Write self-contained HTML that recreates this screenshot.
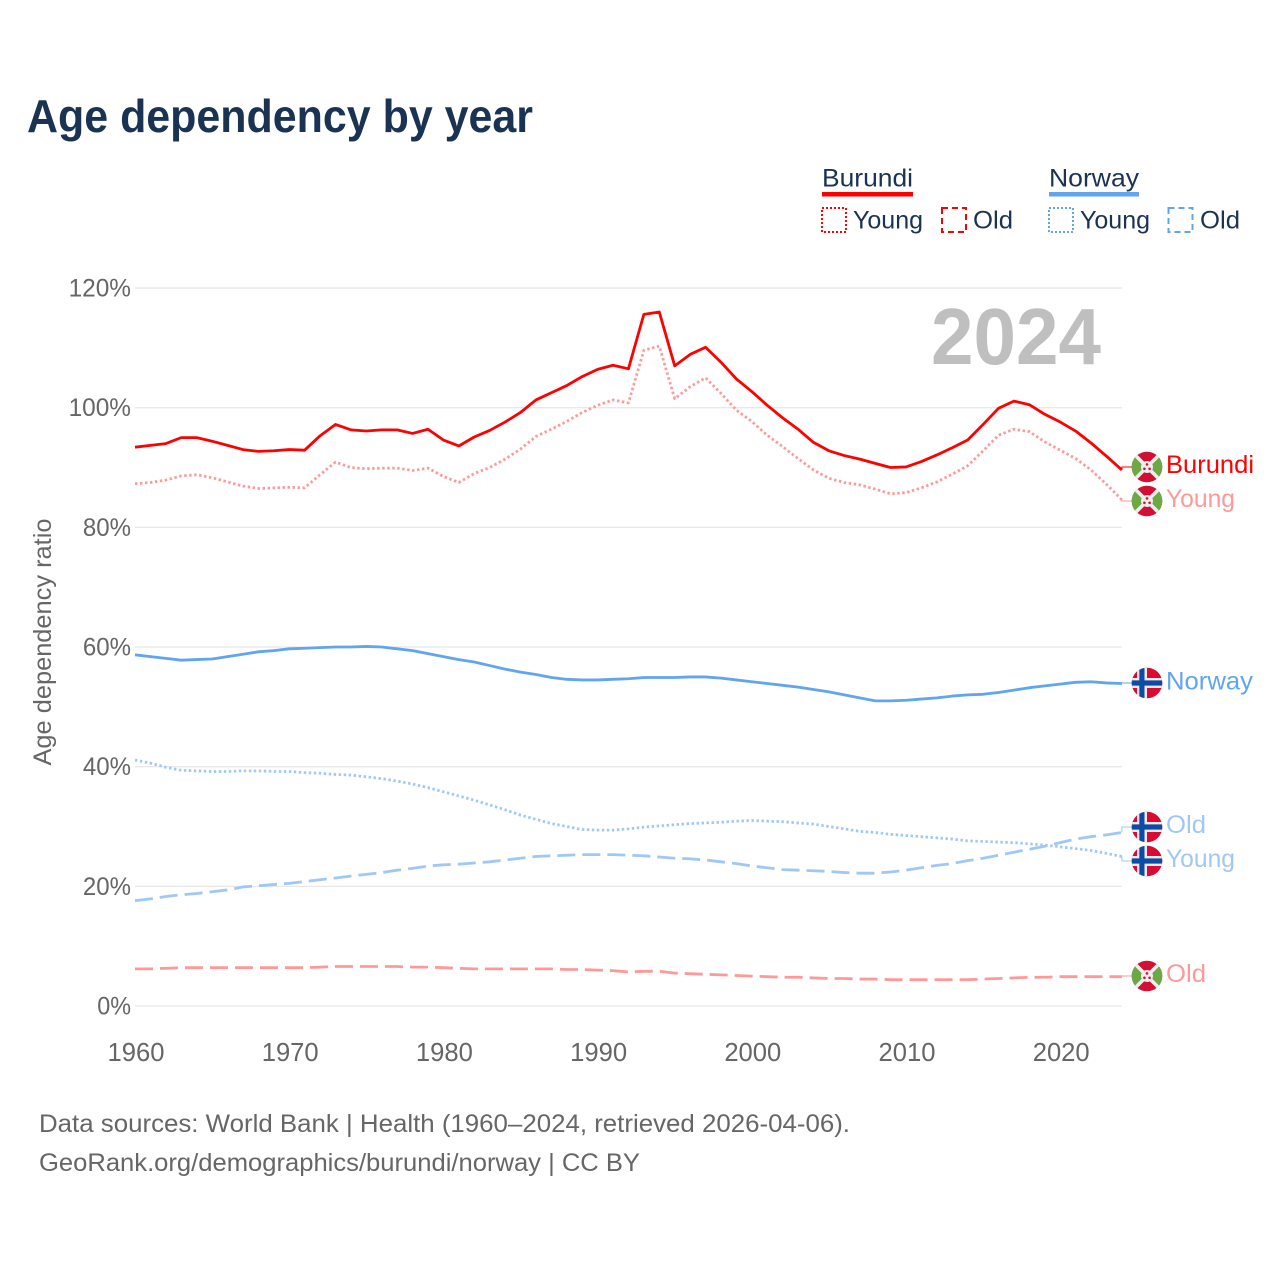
<!DOCTYPE html>
<html lang="en">
<head>
<meta charset="utf-8">
<title>Age dependency by year</title>
<style>
html,body{margin:0;padding:0;background:#fff;}
svg{display:block;font-family:"Liberation Sans",sans-serif;}
</style>
</head>
<body>
<svg id="chart" width="1280" height="1280" viewBox="0 0 1280 1280" xmlns="http://www.w3.org/2000/svg">
<defs>
<clipPath id="flag-clip"><circle cx="0" cy="0" r="15.3"/></clipPath>
<g id="flag-burundi">
<g clip-path="url(#flag-clip)">
<rect x="-16" y="-16" width="32" height="32" fill="#d21034"/>
<path d="M-16 -16L0 0L-16 16Z" fill="#6ca844"/>
<path d="M16 -16L0 0L16 16Z" fill="#6ca844"/>
<path d="M-16 -16L16 16M16 -16L-16 16" stroke="#eeeeee" stroke-width="3.6"/>
<circle cx="0" cy="0" r="6" fill="#eeeeee"/>
<circle cx="0" cy="-2.6" r="1.3" fill="#d21034"/>
<circle cx="-2.6" cy="1.8" r="1.3" fill="#d21034"/>
<circle cx="2.6" cy="1.8" r="1.3" fill="#d21034"/>
</g>
</g>
<g id="flag-norway">
<g clip-path="url(#flag-clip)">
<rect x="-16" y="-16" width="32" height="32" fill="#d80c32"/>
<rect x="-16" y="-5" width="32" height="10" fill="#f0e8ea"/>
<rect x="-10" y="-16" width="10" height="32" fill="#f0e8ea"/>
<rect x="-16" y="-2.6" width="32" height="5.2" fill="#0b4ca5"/>
<rect x="-7.7" y="-16" width="5.2" height="32" fill="#0b4ca5"/>
</g>
</g>
</defs>

<rect width="1280" height="1280" fill="#ffffff"/>

<text x="27" y="132" font-size="46" font-weight="700" fill="#1a3352" textLength="506" lengthAdjust="spacingAndGlyphs">Age dependency by year</text>

<g>
<text x="822" y="186.5" font-size="25" fill="#1a3352" textLength="91" lengthAdjust="spacingAndGlyphs">Burundi</text>
<rect x="822" y="192" width="91" height="4.5" fill="#ff0000"/>
<rect x="822" y="208" width="24" height="24" fill="none" stroke="#ff0000" stroke-width="2" stroke-dasharray="2 2"/>
<text x="853" y="228.5" font-size="25" fill="#1a3352" textLength="70" lengthAdjust="spacingAndGlyphs">Young</text>
<rect x="942" y="208" width="24" height="24" fill="none" stroke="#ff0000" stroke-width="2" stroke-dasharray="6 4"/>
<text x="973" y="228.5" font-size="25" fill="#1a3352" textLength="40" lengthAdjust="spacingAndGlyphs">Old</text>
<text x="1049" y="186.5" font-size="25" fill="#1a3352" textLength="90" lengthAdjust="spacingAndGlyphs">Norway</text>
<rect x="1049" y="192" width="90" height="4.5" fill="#60a5ee"/>
<rect x="1049" y="208" width="24" height="24" fill="none" stroke="#60a5ee" stroke-width="2" stroke-dasharray="2 2"/>
<text x="1080" y="228.5" font-size="25" fill="#1a3352" textLength="70" lengthAdjust="spacingAndGlyphs">Young</text>
<rect x="1168.5" y="208" width="24" height="24" fill="none" stroke="#60a5ee" stroke-width="2" stroke-dasharray="6 4"/>
<text x="1200" y="228.5" font-size="25" fill="#1a3352" textLength="40" lengthAdjust="spacingAndGlyphs">Old</text>
</g>

<g id="grid"></g>
<g id="y-ticks"></g>
<g id="x-ticks"></g>

<text transform="translate(51 642) rotate(-90)" text-anchor="middle" font-size="25" fill="#666666" textLength="247" lengthAdjust="spacingAndGlyphs">Age dependency ratio</text>

<text x="1101" y="364" text-anchor="end" font-size="80" font-weight="700" fill="#bfbfbf" textLength="170" lengthAdjust="spacingAndGlyphs">2024</text>

<g id="series"></g>

<g>
<use href="#flag-burundi" x="1147" y="467"/>
<text x="1166" y="473" font-size="25" fill="#ff0000" textLength="88" lengthAdjust="spacingAndGlyphs">Burundi</text>
<use href="#flag-burundi" x="1147" y="501"/>
<text x="1166" y="507" font-size="25" fill="#ff9999" textLength="69" lengthAdjust="spacingAndGlyphs">Young</text>
<use href="#flag-norway" x="1147" y="683"/>
<text x="1166" y="689.5" font-size="25" fill="#60a5ee" textLength="87" lengthAdjust="spacingAndGlyphs">Norway</text>
<use href="#flag-norway" x="1147" y="827"/>
<text x="1166" y="833" font-size="25" fill="#a0c8f5" textLength="40" lengthAdjust="spacingAndGlyphs">Old</text>
<use href="#flag-norway" x="1147" y="861"/>
<text x="1166" y="867" font-size="25" fill="#a0c8f5" textLength="69" lengthAdjust="spacingAndGlyphs">Young</text>
<use href="#flag-burundi" x="1147" y="976"/>
<text x="1166" y="982" font-size="25" fill="#ff9999" textLength="40" lengthAdjust="spacingAndGlyphs">Old</text>
</g>

<text x="39" y="1132" font-size="25" fill="#666666" textLength="811" lengthAdjust="spacingAndGlyphs">Data sources: World Bank | Health (1960–2024, retrieved 2026-04-06).</text>
<text x="39" y="1171" font-size="25" fill="#666666" textLength="601" lengthAdjust="spacingAndGlyphs">GeoRank.org/demographics/burundi/norway | CC BY</text>
</svg>

<script>
const startYear = 1960;
const yTickValues = [0, 20, 40, 60, 80, 100, 120];
const xTickValues = [1960, 1970, 1980, 1990, 2000, 2010, 2020];

const burundiTotal = [
93.4,93.7,94.0,95.0,95.0,94.4,93.7,93.0,92.7,92.8,
93.0,92.9,95.3,97.2,96.3,96.1,96.3,96.3,95.7,96.4,
94.6,93.6,95.1,96.2,97.6,99.2,101.3,102.5,103.7,105.2,
106.4,107.1,106.5,115.6,116.0,107.0,108.9,110.1,107.6,104.8,
102.7,100.4,98.3,96.4,94.2,92.8,92.0,91.4,90.7,90.0,
90.1,91.0,92.1,93.3,94.6,97.2,99.9,101.1,100.5,98.9,
97.6,96.1,94.1,91.9,89.6];

const burundiYoung = [
87.3,87.5,87.9,88.6,88.8,88.3,87.6,86.9,86.5,86.6,
86.7,86.6,88.8,90.9,90.0,89.8,89.9,89.9,89.5,89.9,
88.5,87.5,89.0,90.0,91.4,93.1,95.2,96.4,97.7,99.2,
100.4,101.3,100.8,109.6,110.3,101.5,103.5,105.0,102.4,99.6,
97.7,95.4,93.5,91.5,89.6,88.2,87.5,87.1,86.4,85.6,
85.8,86.6,87.6,88.9,90.3,92.8,95.4,96.4,96.0,94.3,
92.9,91.5,89.6,87.2,84.6];

const burundiOld = [
6.2,6.2,6.3,6.4,6.4,6.4,6.4,6.4,6.4,6.4,
6.4,6.4,6.5,6.6,6.6,6.6,6.6,6.6,6.5,6.5,
6.4,6.3,6.2,6.2,6.2,6.2,6.2,6.2,6.1,6.1,
6.0,5.9,5.7,5.8,5.8,5.5,5.4,5.3,5.2,5.1,
5.0,4.9,4.8,4.8,4.7,4.6,4.6,4.5,4.5,4.4,
4.4,4.4,4.4,4.4,4.4,4.5,4.6,4.7,4.8,4.8,
4.9,4.9,4.9,4.9,4.9];

const norwayTotal = [
58.7,58.4,58.1,57.8,57.9,58.0,58.4,58.8,59.2,59.4,
59.7,59.8,59.9,60.0,60.0,60.1,60.0,59.7,59.4,58.9,
58.4,57.9,57.5,56.9,56.3,55.8,55.4,54.9,54.6,54.5,
54.5,54.6,54.7,54.9,54.9,54.9,55.0,55.0,54.8,54.5,
54.2,53.9,53.6,53.3,52.9,52.5,52.0,51.5,51.0,51.0,
51.1,51.3,51.5,51.8,52.0,52.1,52.4,52.8,53.2,53.5,
53.8,54.1,54.2,54.0,53.9];

const norwayYoung = [
41.1,40.6,39.9,39.4,39.3,39.2,39.2,39.3,39.3,39.2,
39.2,39.0,38.9,38.7,38.6,38.3,38.0,37.6,37.1,36.5,
35.8,35.1,34.4,33.6,32.8,31.9,31.2,30.5,30.0,29.5,
29.4,29.4,29.6,29.9,30.1,30.3,30.5,30.6,30.7,30.9,
31.0,30.9,30.8,30.6,30.4,30.0,29.6,29.2,29.0,28.7,
28.5,28.3,28.1,27.9,27.6,27.5,27.4,27.3,27.1,26.9,
26.6,26.3,26.0,25.5,25.0];

const norwayOld = [
17.6,17.9,18.3,18.6,18.8,19.1,19.4,19.9,20.1,20.3,
20.5,20.8,21.1,21.4,21.7,22.0,22.3,22.7,23.0,23.4,
23.6,23.7,23.9,24.1,24.4,24.7,25.0,25.1,25.2,25.3,
25.3,25.3,25.2,25.1,24.9,24.7,24.6,24.4,24.1,23.8,
23.4,23.1,22.8,22.7,22.6,22.5,22.3,22.2,22.2,22.4,
22.7,23.1,23.5,23.8,24.3,24.7,25.2,25.7,26.2,26.7,
27.3,27.9,28.3,28.6,29.0];

const NS = 'http://www.w3.org/2000/svg';
const xScale = function (year) { return 135 + (year - startYear) * 15.42; };
const yScale = function (v) { return 1006 - v * 5.983; };

const gridGroup = document.getElementById('grid');
const yTickGroup = document.getElementById('y-ticks');
const xTickGroup = document.getElementById('x-ticks');
const seriesGroup = document.getElementById('series');

yTickValues.forEach(function (v) {
  const line = document.createElementNS(NS, 'line');
  line.setAttribute('x1', 135);
  line.setAttribute('x2', 1122);
  line.setAttribute('y1', yScale(v));
  line.setAttribute('y2', yScale(v));
  line.setAttribute('stroke', '#e8e8e8');
  line.setAttribute('stroke-width', 1.3);
  
  
  gridGroup.appendChild(line);

  const label = document.createElementNS(NS, 'text');
  const str = v + '%';
  label.textContent = str;
  label.setAttribute('x', 131);
  label.setAttribute('y', yScale(v) + 8.5);
  label.setAttribute('text-anchor', 'end');
  label.setAttribute('font-size', 25);
  label.setAttribute('fill', '#666666');
  label.setAttribute('textLength', (str.length - 1) * 14.3 + 19.5);
  label.setAttribute('lengthAdjust', 'spacingAndGlyphs');
  
  
  yTickGroup.appendChild(label);
});

xTickValues.forEach(function (yr) {
  const label = document.createElementNS(NS, 'text');
  label.textContent = yr;
  label.setAttribute('x', xScale(yr) + 1);
  label.setAttribute('y', 1061);
  label.setAttribute('text-anchor', 'middle');
  label.setAttribute('font-size', 25.6);
  label.setAttribute('fill', '#666666');
  
  
  xTickGroup.appendChild(label);
});

function drawSeries(name, values, color, width, dash, labelY) {
  const path = document.createElementNS(NS, 'path');
  path.setAttribute('d', values.map(function (v, i) {
    return (i ? 'L' : 'M') + xScale(startYear + i).toFixed(2) + ' ' + yScale(v).toFixed(2);
  }).join(''));
  path.setAttribute('fill', 'none');
  path.setAttribute('stroke', color);
  path.setAttribute('stroke-width', width);
  path.setAttribute('stroke-linejoin', 'round');
  if (dash) path.setAttribute('stroke-dasharray', dash);
  
  
  seriesGroup.appendChild(path);

  const endX = xScale(startYear + values.length - 1);
  const endY = yScale(values[values.length - 1]);
  const conn = document.createElementNS(NS, 'path');
  conn.setAttribute('d', 'M' + endX + ' ' + endY + 'L' + endX + ' ' + labelY + 'L1133 ' + labelY);
  conn.setAttribute('fill', 'none');
  conn.setAttribute('stroke', color);
  conn.setAttribute('stroke-width', 1);
  
  
  seriesGroup.appendChild(conn);
}

drawSeries('burundi-total', burundiTotal, '#ff0000', 2.8, null, 467);
drawSeries('burundi-young', burundiYoung, '#ff9999', 2.8, '2.4 2.6', 501);
drawSeries('burundi-old', burundiOld, '#ff9999', 2.8, '18 7', 976);
drawSeries('norway-total', norwayTotal, '#60a5ee', 2.8, null, 683);
drawSeries('norway-young', norwayYoung, '#a0c8f5', 2.8, '2.4 2.6', 861);
drawSeries('norway-old', norwayOld, '#a0c8f5', 2.8, '18 7', 827);
</script>
</body>
</html>
